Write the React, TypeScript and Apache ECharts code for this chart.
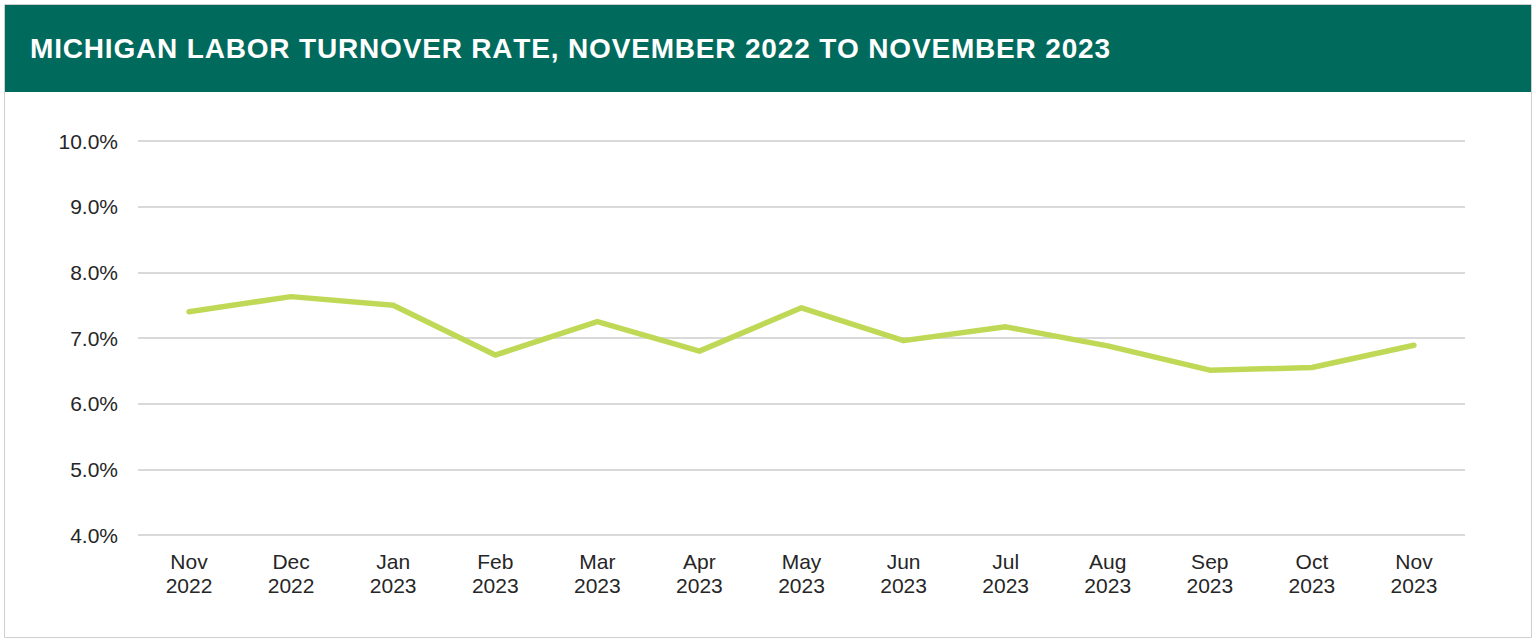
import React, { useEffect, useRef } from "react";
import * as echarts from "echarts";

const TITLE = "MICHIGAN LABOR TURNOVER RATE, NOVEMBER 2022 TO NOVEMBER 2023";
const months = ["Nov", "Dec", "Jan", "Feb", "Mar", "Apr", "May", "Jun", "Jul", "Aug", "Sep", "Oct", "Nov"];
const years = ["2022", "2022", "2023", "2023", "2023", "2023", "2023", "2023", "2023", "2023", "2023", "2023", "2023"];
const turnoverRate = [7.40, 7.63, 7.50, 6.74, 7.25, 6.80, 7.46, 6.96, 7.17, 6.88, 6.51, 6.55, 6.89];

const FONT = "'Liberation Sans', Arial, sans-serif";
const TITLE_FONT = `bold 28px ${FONT}`;
const TITLE_LEFT = 30;
const TITLE_RIGHT = 1110;

function titleGlyphs() {
  const canvas = document.createElement("canvas");
  const ctx = canvas.getContext("2d");
  const chars = TITLE.split("");
  const widths = chars.map((c) => {
    if (!ctx) return 16;
    ctx.font = TITLE_FONT;
    return ctx.measureText(c).width;
  });
  const total = widths.reduce((a, b) => a + b, 0);
  const spacing = (TITLE_RIGHT - TITLE_LEFT - total) / (chars.length - 1);
  let x = TITLE_LEFT;
  const out: any[] = [];
  chars.forEach((c, i) => {
    if (c !== " ") {
      out.push({
        type: "text",
        x,
        y: 48,
        style: {
          text: c,
          fill: "#ffffff",
          font: TITLE_FONT,
          verticalAlign: "middle",
          align: "left",
        },
      });
    }
    x += widths[i] + spacing;
  });
  return out;
}

export default function App() {
  const ref = useRef<HTMLDivElement>(null);
  useEffect(() => {
    if (!ref.current) return;
    const chart = echarts.init(ref.current, null, { renderer: "svg" });
    const categories = months.map((m, i) => `${m}\n${years[i]}`);
    chart.setOption({
      animation: false,
      backgroundColor: "#ffffff",
      graphic: [
        {
          type: "rect",
          shape: { x: 4.5, y: 4.5, width: 1527, height: 633 },
          style: { fill: "#ffffff", stroke: "#cfcfcf", lineWidth: 1 },
          z: -10,
        },
        {
          type: "rect",
          shape: { x: 5, y: 5, width: 1526, height: 87 },
          style: { fill: "#006b5d" },
          z: -5,
        },
        ...titleGlyphs(),
      ],
      grid: { left: 138, right: 71, top: 141, bottom: 106, containLabel: false },
      xAxis: {
        type: "category",
        data: categories,
        boundaryGap: true,
        axisLine: { show: false },
        axisTick: { show: false },
        axisLabel: {
          color: "#262626",
          fontSize: 21,
          fontFamily: FONT,
          lineHeight: 24,
          margin: 14,
          interval: 0,
        },
      },
      yAxis: {
        type: "value",
        min: 4,
        max: 10,
        interval: 1,
        axisLine: { show: false },
        axisTick: { show: false },
        splitLine: { lineStyle: { color: "#d9d9d9", width: 2 } },
        axisLabel: {
          color: "#262626",
          fontSize: 21,
          fontFamily: FONT,
          margin: 20,
          formatter: (v: number) => `${v.toFixed(1)}%`,
        },
      },
      series: [
        {
          type: "line",
          data: turnoverRate,
          showSymbol: false,
          symbol: "none",
          lineStyle: { color: "#bfd957", width: 5.5, cap: "round", join: "round" },
        },
      ],
    });
    return () => chart.dispose();
  }, []);
  return (
    <div
      ref={ref}
      style={{ position: "absolute", left: 0, top: 0, width: 1536, height: 641 }}
    />
  );
}
